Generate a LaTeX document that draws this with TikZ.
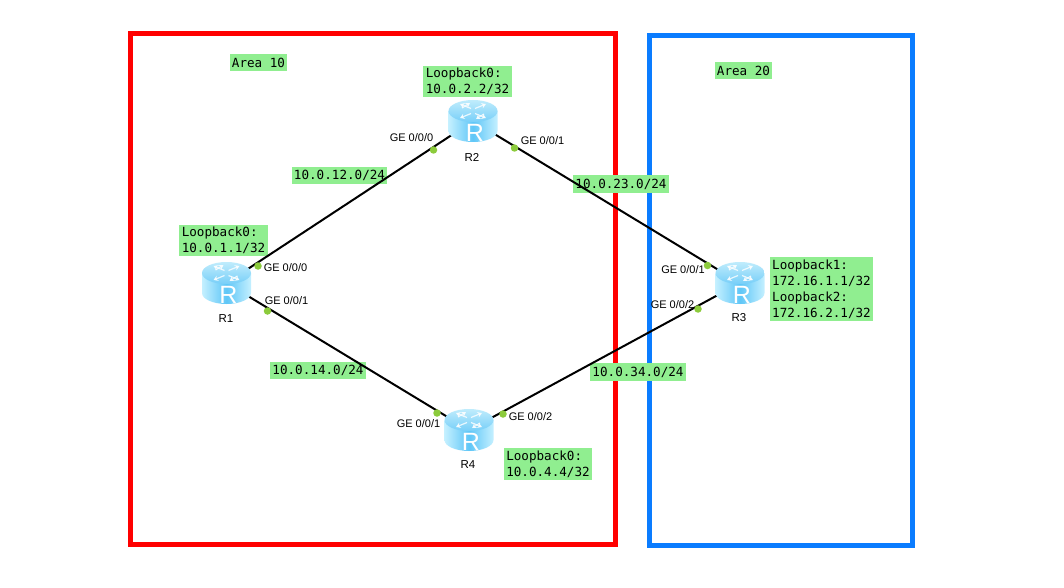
\documentclass[tikz,border=0pt]{standalone}
\usepackage{fontspec}
\setmainfont{Liberation Sans}
\newfontfamily\labelmono{DejaVu Sans Mono}
\usetikzlibrary{arrows.meta}
\definecolor{lblgreen}{HTML}{90EE90}
\definecolor{dotgreen}{HTML}{8CCB3C}
\definecolor{framered}{HTML}{FF0000}
\definecolor{frameblue}{HTML}{0A7CFF}
\definecolor{rlight}{HTML}{C4F0FF}
\definecolor{rmid}{HTML}{5FC6F7}
\definecolor{rtop}{HTML}{A4E4FB}
\tikzset{
  x=1pt,y=-1pt,
  frame/.style={line width=5pt,fill=none},
  link/.style={line width=2pt,black},
  iplabel/.style={fill=lblgreen,font=\labelmono\fontsize{12.6}{16}\selectfont,text=black,align=left,inner xsep=2.3pt,inner ysep=2.5pt,outer sep=0pt,minimum height=17.5pt},
  portlabel/.style={font=\fontsize{11}{12}\selectfont,text=black,inner sep=0pt},
  rname/.style={font=\fontsize{11.5}{13}\selectfont,text=black,inner sep=0pt},
  portdot/.style={circle,fill=dotgreen,minimum size=7.5pt,inner sep=0pt,outer sep=0pt},
  routerspot/.style={minimum size=40pt,inner sep=0pt,outer sep=0pt},
  routerpic/.pic={
    \path[left color=rlight,right color=rlight,middle color=rmid]
      (-24.5,-10) -- (-24.5,10) arc[start angle=180,end angle=0,x radius=24.5,y radius=11] -- (24.5,-10) -- cycle;
    \path[top color=rtop!70!white,bottom color=rmid!85!white] (0,-10) ellipse[x radius=24.5,y radius=11];
    \begin{scope}[white,line width=1.2pt,opacity=.8,-{Stealth[length=4.5pt,width=5.5pt]}]
      \draw (-2,-12.5) -- (-13,-17);
      \draw (2,-12.5) -- (13,-17);
      \draw (-2,-7.5) -- (-13,-3);
      \draw (2,-7.5) -- (13,-3);
      \draw (-11,-13) -- (-3,-18);
      \draw (11,-7) -- (3,-2);
    \end{scope}
    \node[white,inner sep=0pt,font=\fontsize{25}{25}\selectfont] at (2,11.5) {R};
  }
}
\begin{document}
\begin{tikzpicture}
\useasboundingbox (0,0) rectangle (1064,588);
\fill[white] (0,0) rectangle (1064,588);
\coordinate (redA) at (130.5,33.5);
\coordinate (redB) at (615.5,544.5);
\coordinate (blueA) at (649.5,35.5);
\coordinate (blueB) at (912.5,545.5);
\draw[frame,framered] (redA) rectangle (redB);
\draw[frame,frameblue] (blueA) rectangle (blueB);

\node[iplabel] (area10) at (258.5,62.5) {Area 10};
\node[iplabel] (area20) at (743.5,70.5) {Area 20};
\node[iplabel] (l2) at (467.5,81.5) {Loopback0:\\10.0.2.2/32};
\node[iplabel] (l1) at (223.5,240.5) {Loopback0:\\10.0.1.1/32};
\node[iplabel] (l3) at (821.5,289) {Loopback1:\\172.16.1.1/32\\Loopback2:\\172.16.2.1/32};
\node[iplabel] (l4) at (548,463.8) {Loopback0:\\10.0.4.4/32};
\node[iplabel] (s12) at (339.5,175.5) {10.0.12.0/24};
\node[iplabel] (s23) at (621,184) {10.0.23.0/24};
\node[iplabel] (s14) at (318,370.5) {10.0.14.0/24};
\node[iplabel] (s34) at (638,372) {10.0.34.0/24};

\node[routerspot] (R1) at (226.5,283) {};
\node[routerspot] (R2) at (473,121) {};
\node[routerspot] (R3) at (740,283) {};
\node[routerspot] (R4) at (469,430) {};

\draw[link] (R1.center) -- (R2.center);
\draw[link] (R2.center) -- (R3.center);
\draw[link] (R1.center) -- (R4.center);
\draw[link] (R4.center) -- (R3.center);

\pic at (R1.center) {routerpic};
\pic at (R2.center) {routerpic};
\pic at (R3.center) {routerpic};
\pic at (R4.center) {routerpic};

\node[rname] (n1) at (226,319) {R1};
\node[rname] (n2) at (472,157) {R2};
\node[rname] (n3) at (739,318) {R3};
\node[rname] (n4) at (468,465) {R4};

\node[portdot] (d1a) at (258,266) {};
\node[portdot] (d1b) at (267.5,311) {};
\node[portdot] (d2a) at (433.5,150) {};
\node[portdot] (d2b) at (514.5,148) {};
\node[portdot] (d3a) at (707.5,265.5) {};
\node[portdot] (d3b) at (698,309) {};
\node[portdot] (d4a) at (437,413) {};
\node[portdot] (d4b) at (503,414) {};

\node[portlabel] (p1a) at (285.5,268) {GE 0/0/0};
\node[portlabel] (p1b) at (286.5,301) {GE 0/0/1};
\node[portlabel] (p2a) at (411.5,138) {GE 0/0/0};
\node[portlabel] (p2b) at (542.5,141) {GE 0/0/1};
\node[portlabel] (p3a) at (683,270) {GE 0/0/1};
\node[portlabel] (p3b) at (672.5,305) {GE 0/0/2};
\node[portlabel] (p4a) at (418.5,424) {GE 0/0/1};
\node[portlabel] (p4b) at (530.5,417) {GE 0/0/2};
\end{tikzpicture}
\end{document}
